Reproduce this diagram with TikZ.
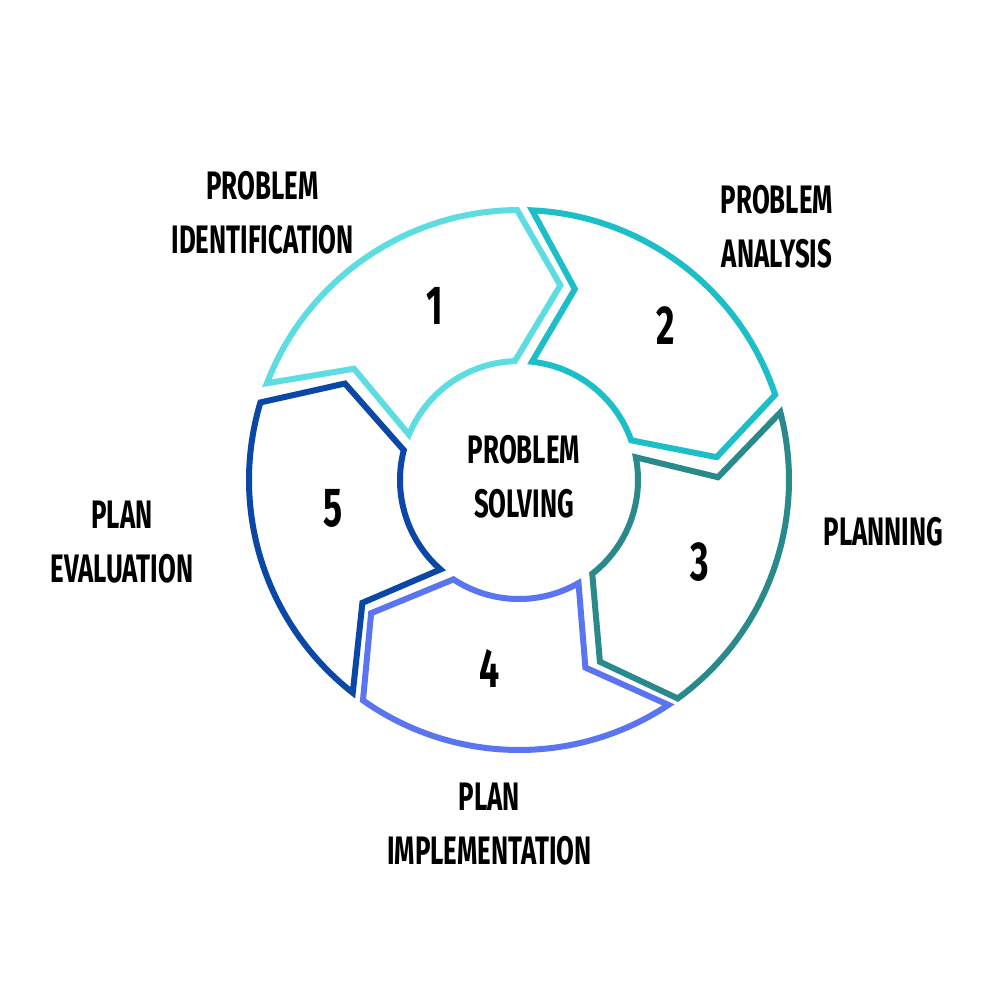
\documentclass[tikz,border=0pt]{standalone}
\usepackage{fontspec}
\newfontfamily\bebas[FakeStretch=0.65]{Fira Sans}
\definecolor{cA}{HTML}{5DDDE2}
\definecolor{cB}{HTML}{1CBFC7}
\definecolor{cC}{HTML}{2A8A8B}
\definecolor{cD}{HTML}{5B74EF}
\definecolor{cE}{HTML}{0B47A7}
\newcommand\ringseg[7]{%
  \draw[segline,#1] (#2:270) arc[start angle=#2, end angle=#3, radius=270]
    -- (#4:199) -- (#7:119) arc[start angle=#7, end angle=#6, radius=119]
    -- (#5:199) -- cycle;}
\tikzset{
  segline/.style={line width=0.06cm, line join=miter, miter limit=10},
  lbl/.style={font=\bebas\bfseries\fontsize{11.3}{15.4}\selectfont, align=center, inner sep=0pt, text=black},
  num/.style={font=\bebas\bfseries\fontsize{15.6}{18}\selectfont, inner sep=0pt, text=black}
}
\begin{document}
\begin{tikzpicture}[x=0.01cm, y=-0.01cm]
\fill[white] (0,0) rectangle (999,999);
\useasboundingbox (0,0) rectangle (999,999);
\begin{scope}[shift={(519,480)}, y=0.01cm]
  \ringseg{cA}{159}{90.4}{78}{146}{157.6}{92}
  \ringseg{cB}{87.2}{18.4}{6.6}{73.7}{83.7}{19.5}
  \ringseg{cC}{14.5}{-54}{-66}{0.8}{11}{-52}
  \ringseg{cD}{-56.4}{-125.3}{-138}{-70.5}{-60}{-123.4}
  \ringseg{cE}{232}{163.3}{151}{218.1}{228.7}{165.5}
\end{scope}
\node[lbl] (center) at (524,477) {PROBLEM\\SOLVING};
\node[num] (n1) at (434.5,306) {1};
\node[num] (n2) at (666,326) {2};
\node[num] (n3) at (700,562.5) {3};
\node[num] (n4) at (490,668) {4};
\node[num] (n5) at (333,508.5) {5};
\node[lbl] (l1) at (262.5,212.5) {PROBLEM\\IDENTIFICATION};
\node[lbl] (l2) at (777,227) {PROBLEM\\ANALYSIS};
\node[lbl] (l3) at (883.5,531.5) {PLANNING};
\node[lbl] (l4) at (489.5,824) {PLAN\\IMPLEMENTATION};
\node[lbl] (l5) at (122,542) {PLAN\\EVALUATION};
\end{tikzpicture}
\end{document}
